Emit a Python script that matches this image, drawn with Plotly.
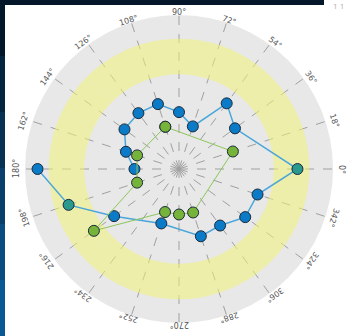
import math
import plotly.graph_objects as go

# Spoke angles (degrees, counter-clockwise from east)
spoke_step = 18
spoke_angles = list(range(0, 360, spoke_step))
spoke_labels = [f"{a}°" for a in spoke_angles]

# Series A: spiral of readings
theta_a = [180, 162, 144, 126, 108, 90, 72, 54, 36, 0, 342, 324, 306, 288, 252, 216, 198, 180]
r_a = [0.376, 0.471, 0.569, 0.583, 0.576, 0.48, 0.378, 0.685, 0.584, 1.0,
       0.697, 0.691, 0.59, 0.597, 0.483, 0.677, 0.98, 1.194]

# Series B: closed loop
theta_b = [108, 18, 288, 270, 252, 216, 198, 162, 108]
r_b = [0.375, 0.478, 0.386, 0.384, 0.382, 0.888, 0.372, 0.372, 0.375]

# Target band
band_low = 0.8
band_high = 1.1
r_max = 1.3

BLUE = "#0b7bc8"
TEAL = "#2a9a8e"
GREEN = "#76b33a"
EDGE = "#1b2a3a"

colors_a = [TEAL if band_low <= v <= band_high else BLUE for v in r_a]

fig = go.Figure()

fig.add_trace(go.Barpolar(
    theta=spoke_angles,
    r=[band_high - band_low] * len(spoke_angles),
    base=[band_low] * len(spoke_angles),
    width=[spoke_step] * len(spoke_angles),
    marker=dict(color="rgba(243,243,120,0.55)", line=dict(width=0)),
    hoverinfo="skip",
    showlegend=False,
))

fig.add_trace(go.Scatterpolar(
    theta=theta_a, r=r_a, mode="lines+markers",
    line=dict(color="#4aa6da", width=1.5),
    marker=dict(size=11, color=colors_a, line=dict(color=EDGE, width=1)),
    showlegend=False,
))

fig.add_trace(go.Scatterpolar(
    theta=theta_b, r=r_b, mode="lines+markers",
    line=dict(color="#8cc65a", width=1),
    marker=dict(size=11, color=GREEN, line=dict(color=EDGE, width=1)),
    showlegend=False,
))

W, H = 354, 336
cx, cy, rad = 179, 169, 154
label_dx, label_dy = 163, 156

# Angular labels set tangentially around the rim
annotations = []
for a, txt in zip(spoke_angles, spoke_labels):
    t = math.radians(a)
    annotations.append(dict(
        xref="paper", yref="paper",
        x=(cx + label_dx * math.cos(t)) / W,
        y=(H - cy + label_dy * math.sin(t)) / H,
        text=txt, showarrow=False, textangle=90 - a,
        xanchor="center", yanchor="middle",
        font=dict(size=8, color="#555", family="DejaVu Sans"),
    ))
annotations.append(dict(
    xref="paper", yref="paper", x=346 / W, y=1, yanchor="top", yshift=2,
    text="1 1", showarrow=False, font=dict(size=8, color="#b0b0b0"),
))

fig.update_layout(
    width=W, height=H,
    margin=dict(l=0, r=0, t=0, b=0),
    paper_bgcolor="white",
    polar=dict(
        domain=dict(x=[(cx - rad) / W, (cx + rad) / W],
                    y=[(H - cy - rad) / H, (H - cy + rad) / H]),
        bgcolor="#e8e8e8",
        bargap=0,
        radialaxis=dict(range=[0, r_max], tickvals=[r_max], showticklabels=False,
                        showline=False, ticks="", gridcolor="#a8a8a8", griddash="dot",
                        gridwidth=1),
        angularaxis=dict(tickmode="linear", tick0=0, dtick=spoke_step,
                         showline=False, gridcolor="#a0a0a0", griddash="dash",
                         showticklabels=False, ticks=""),
    ),
    annotations=annotations,
    shapes=[
        dict(type="rect", xref="paper", yref="paper", x0=0, x1=324 / W,
             y0=1 - 5 / H, y1=1, fillcolor="#04162a", line=dict(width=0), layer="above"),
    ] + [
        dict(type="rect", xref="paper", yref="paper", x0=0, x1=5 / W,
             y0=1 - (i + 1) / 6, y1=1 - i / 6,
             fillcolor=c, line=dict(width=0), layer="above")
        for i, c in enumerate(["#03172b", "#052440", "#073254", "#093f6a", "#0a4c80", "#0b5994"])
    ],
)

fig.write_html("out.html")
